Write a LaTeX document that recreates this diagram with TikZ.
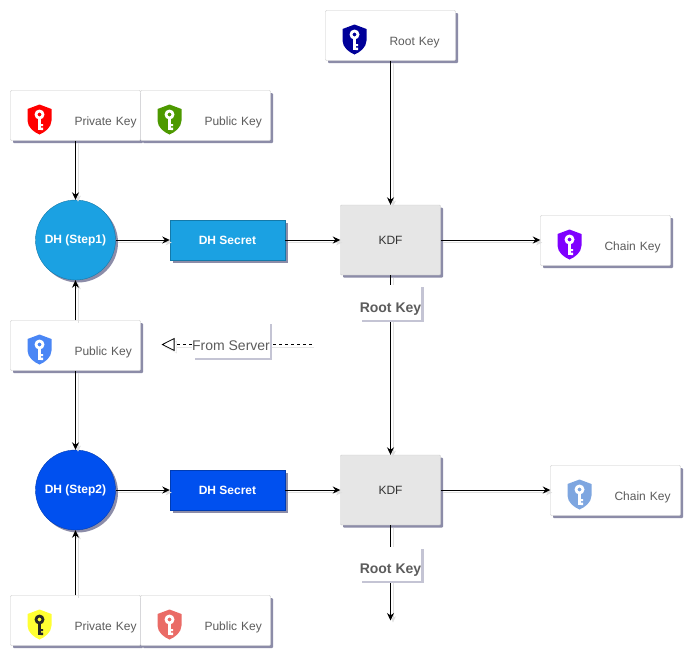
\documentclass[tikz,border=0pt]{standalone}
\usepackage{fontspec}
\setmainfont{Liberation Sans}
\usepackage{tikz}
\usetikzlibrary{arrows.meta,shadows}

\definecolor{shadowgray}{HTML}{8C8CA8}
\definecolor{labelshadow}{HTML}{C4C4D4}
\definecolor{keytext}{HTML}{5C5C5C}
\definecolor{stepone}{HTML}{1BA1E2}
\definecolor{steptwo}{HTML}{0050EF}
\definecolor{kdfgray}{HTML}{E6E6E6}
\definecolor{shieldblue}{HTML}{4A86F5}
\definecolor{shieldgreen}{HTML}{4D9900}
\definecolor{shieldnavy}{HTML}{000099}
\definecolor{shieldviolet}{HTML}{7F00FF}
\definecolor{shieldyellow}{HTML}{FFFF33}
\definecolor{shieldsalmon}{HTML}{EA6B66}
\definecolor{shieldsky}{HTML}{7EA6E0}

\tikzset{
  boxshadow/.style={drop shadow={shadow xshift=2.5pt,shadow yshift=-2.5pt,fill=shadowgray,opacity=1}},
  lblshadow/.style={drop shadow={shadow xshift=2.5pt,shadow yshift=-2.5pt,fill=labelshadow,opacity=1}},
  keybox/.style={draw=black!22,fill=white,rounded corners=1pt,boxshadow,text width=130pt,
    inner sep=0pt,text height=35pt,text depth=15pt,font=\fontsize{12}{14}\selectfont,
    text=keytext,align=left,execute at begin node=\hspace*{64pt}},
  dhcircle/.style={circle,draw=#1!75!black,fill=#1,boxshadow,minimum size=80pt,inner sep=0pt,
    text=white,font=\fontsize{12}{14}\selectfont\bfseries},
  secretbox/.style={draw=#1!75!black,fill=#1,boxshadow,minimum width=115pt,minimum height=40pt,
    inner sep=0pt,text=white,font=\fontsize{12}{14}\selectfont\bfseries},
  kdfbox/.style={draw=black!20,fill=kdfgray,rounded corners=1pt,boxshadow,minimum width=100pt,
    minimum height=70pt,inner sep=0pt,text=black!80,font=\fontsize{12}{14}\selectfont},
  rootlabel/.style={fill=white,lblshadow,minimum width=60pt,inner sep=0pt,text=keytext,
    font=\fontsize{14}{16}\selectfont\bfseries},
  wire/.style={line width=1pt,-{Stealth[length=7.5pt,width=7pt]},
    preaction={draw=black!12,transform canvas={shift={(2.5pt,-2.5pt)}}}},
}

% shield with a key on it: position, shield colour, key colour
\newcommand{\keyicon}[3]{
  \begin{scope}[shift={#1}]
    \fill[#2] (0,-15) -- (12,-10.5) -- (12,1) .. controls (12,8) and (5,13) .. (0,15)
      .. controls (-5,13) and (-12,8) .. (-12,1) -- (-12,-10.5) -- cycle;
    \fill[#3,even odd rule] (0,-5) circle (5) (0,-5) circle (2);
    \fill[#3] (-1.6,-1) rectangle (1.2,10.5);
    \fill[#3] (1,4.5) rectangle (3.6,6.6) (1,8) rectangle (3.6,10.5);
  \end{scope}
}

\begin{document}
\begin{tikzpicture}[x=1pt,y=-1pt]
\useasboundingbox (0.5,0.5) rectangle (699.5,665.5);
\fill[white] (0.5,0.5) rectangle (699.5,665.5);

% Key boxes
\node[keybox] (rootkey) at (391,36) {Root Key};
\node[keybox] (privone) at (76,116) {Private Key};
\node[keybox] (pubone) at (206,116) {Public Key};
\node[keybox] (server) at (76,346) {Public Key};
\node[keybox] (privtwo) at (76,621) {Private Key};
\node[keybox] (pubtwo) at (206,621) {Public Key};
\node[keybox] (chainone) at (606,241) {Chain Key};
\node[keybox] (chaintwo) at (616,491) {Chain Key};

% Step one row
\node[dhcircle=stepone] (dhone) at (76,240.5) {DH (Step1)};
\node[secretbox=stepone] (secretone) at (228,240.5) {DH Secret};
\node[kdfbox] (kdfone) at (391,240.5) {KDF};

% Step two row
\node[dhcircle=steptwo] (dhtwo) at (76,490.5) {DH (Step2)};
\node[secretbox=steptwo] (secrettwo) at (228,490.5) {DH Secret};
\node[kdfbox] (kdftwo) at (391,490.5) {KDF};

% Free ends
\coordinate (rootout) at (391,621);
\coordinate (serverstart) at (312,345);
\coordinate (servertip) at (162,345);

% Connectors
\draw[wire] (privone) -- (dhone);
\draw[wire] (server) -- (dhone);
\draw[wire] (server) -- (dhtwo);
\draw[wire] (privtwo) -- (dhtwo);
\draw[wire] (dhone) -- (secretone);
\draw[wire] (dhtwo) -- (secrettwo);
\draw[wire] (secretone) -- (kdfone);
\draw[wire] (secrettwo) -- (kdftwo);
\draw[wire] (rootkey) -- (kdfone);
\draw[wire] (kdfone) -- (kdftwo);
\draw[wire] (kdfone.east) -- (chainone.west |- kdfone);
\draw[wire] (kdftwo.east) -- (chaintwo.west |- kdftwo);
\draw[wire] (kdftwo) -- (rootout);
\draw[line width=0.8pt,dashed,-{Triangle[open,fill=white,length=13pt,width=13pt]},
  preaction={draw=black!10,transform canvas={shift={(2.5pt,-2.5pt)}}}] (serverstart) -- (servertip);

% Labels on the connectors
\node[rootlabel,text height=27.5pt,text depth=7.5pt] (rootlblone) at (391,302.5) {Root Key};
\node[rootlabel,text height=26.5pt,text depth=7.5pt] (rootlbltwo) at (391,564) {Root Key};
\node[fill=white,lblshadow,minimum width=74pt,inner sep=0pt,text height=29pt,text depth=7pt,
  text=keytext,font=\fontsize{14}{16}\selectfont] (fromlbl) at (231.5,340) {From Server};

% Shields
\keyicon{(40,120)}{red}{white}
\keyicon{(170,120)}{shieldgreen}{white}
\keyicon{(355,40)}{shieldnavy}{white}
\keyicon{(40,350)}{shieldblue}{white}
\keyicon{(570,245)}{shieldviolet}{white}
\keyicon{(580,495)}{shieldsky}{white}
\keyicon{(40,625)}{shieldyellow}{black!85}
\keyicon{(170,625)}{shieldsalmon}{white}
\end{tikzpicture}
\end{document}
